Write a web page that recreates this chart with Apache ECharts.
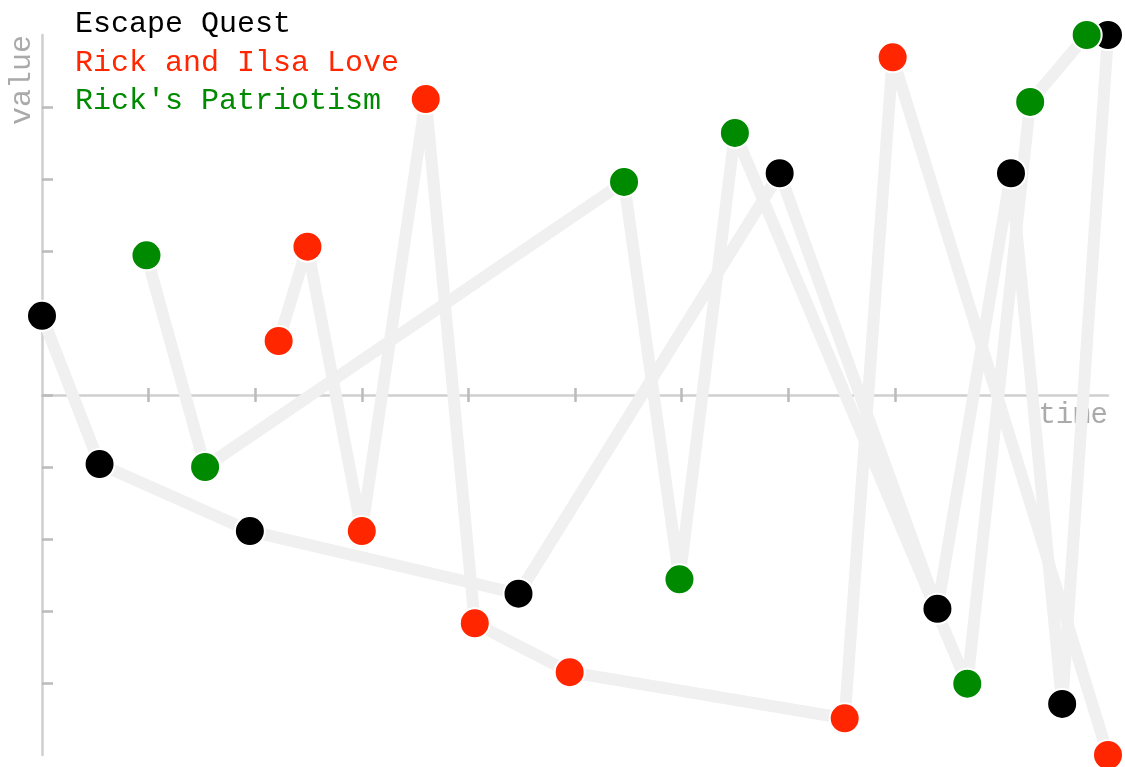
<!DOCTYPE html>
<html>
<head>
<meta charset="utf-8">
<title>Casablanca storylines</title>
<script src="https://cdn.jsdelivr.net/npm/echarts@6/dist/echarts.min.js"></script>
<style>
  html, body { margin: 0; padding: 0; background: #fff; }
  #chart { width: 1125px; height: 767px; }
</style>
</head>
<body>
<div id="chart"></div>
<script>
// series names
var seriesNames = ['Escape Quest', 'Rick and Ilsa Love', "Rick's Patriotism"];
var seriesColors = ['#000000', '#ff2600', '#008a00'];

// Escape Quest
var escapeX = [0, 0.54, 1.95, 4.47, 6.92, 8.40, 9.09, 9.57, 10];
var escapeY = [1.10, -0.96, -1.89, -2.76, 3.08, -2.97, 3.08, -4.29, 5];

// Rick and Ilsa Love
var loveX = [2.22, 2.49, 3.00, 3.60, 4.06, 4.95, 7.53, 7.98, 10];
var loveY = [0.75, 2.06, -1.89, 4.11, -3.17, -3.85, -4.49, 4.69, -5];

// Rick's Patriotism
var patriotX = [0.98, 1.53, 5.46, 5.98, 6.50, 8.68, 9.27, 9.80];
var patriotY = [1.94, -1.00, 2.96, -2.56, 3.64, -4.01, 4.07, 5.00];

// ticks
var xTicks = [1, 2, 3, 4, 5, 6, 7, 8, 9];
var yTicks = [-4, -3, -2, -1, 0, 1, 2, 3, 4];

function zip(xs, ys) {
    var out = [];
    for (var i = 0; i < xs.length; i++) out.push([xs[i], ys[i]]);
    return out;
}

var allData = [zip(escapeX, escapeY), zip(loveX, loveY), zip(patriotX, patriotY)];
var mono = "'Courier New', 'Liberation Mono', monospace";

var series = [];
// gray connecting lines first
for (var i = 0; i < 3; i++) {
    series.push({
        name: seriesNames[i],
        type: 'line',
        data: allData[i],
        showSymbol: false,
        clip: false,
        z: 2,
        silent: true,
        itemStyle: { color: seriesColors[i] },
        lineStyle: { color: '#f0f0f0', width: 12, cap: 'round', join: 'round' }
    });
}
// dots on top
for (var j = 0; j < 3; j++) {
    series.push({
        name: seriesNames[j],
        type: 'scatter',
        data: allData[j],
        symbol: 'circle',
        symbolSize: 30,
        clip: false,
        z: 3,
        itemStyle: { color: seriesColors[j], borderColor: '#fff', borderWidth: 2, opacity: 1 }
    });
}

var myChart = echarts.init(document.getElementById('chart'));
var option = {
    animation: false,
    backgroundColor: '#fff',
    legend: {
        orient: 'vertical',
        left: 65,
        top: 0,
        icon: 'none',
        itemWidth: 0,
        itemHeight: 0,
        itemGap: 0,
        selectedMode: false,
        data: seriesNames.map(function (n, k) {
            return { name: n, textStyle: { color: seriesColors[k] } };
        }),
        textStyle: { fontFamily: mono, fontSize: 30, lineHeight: 38.5 }
    },
    grid: {
        left: 42, right: 17, top: 35, bottom: 12,
        containLabel: false,
        outerBoundsMode: 'none'
    },
    xAxis: [{
        type: 'value',
        min: 0, max: 10, interval: 1,
        name: 'time',
        nameLocation: 'end',
        nameGap: 0,
        nameTextStyle: {
            color: '#aaa', fontFamily: mono, fontSize: 29,
            align: 'right', verticalAlign: 'top', padding: [6, 0, 0, 0]
        },
        axisLine: { onZero: true, lineStyle: { color: '#cfcfcf', width: 2.5 } },
        axisTick: { show: true, length: 7, customValues: xTicks, lineStyle: { color: '#bbb', width: 2.5 } },
        axisLabel: { show: false },
        splitLine: { show: false }
    }, {
        // upper half of the x ticks
        type: 'value',
        position: 'bottom',
        min: 0, max: 10, interval: 1,
        axisLine: { show: true, onZero: true, onZeroAxisIndex: 1, lineStyle: { opacity: 0 } },
        axisTick: { show: true, inside: true, length: 7, customValues: xTicks, lineStyle: { color: '#bbb', width: 2.5 } },
        axisLabel: { show: false },
        splitLine: { show: false }
    }],
    yAxis: [{
        type: 'value',
        min: -5, max: 5, interval: 1,
        name: 'value',
        nameLocation: 'end',
        nameGap: 0,
        nameRotate: 90,
        nameTextStyle: {
            color: '#aaa', fontFamily: mono, fontSize: 30,
            align: 'right', verticalAlign: 'bottom', padding: [0, 0, 5, 0]
        },
        axisLine: { lineStyle: { color: '#cfcfcf', width: 2.5 } },
        axisTick: { show: true, inside: true, length: 11, customValues: yTicks, lineStyle: { color: '#bbb', width: 2.5 } },
        axisLabel: { show: false },
        splitLine: { show: false }
    }, {
        type: 'value',
        show: false,
        min: -5, max: 5, interval: 1,
        axisLine: { onZero: false }
    }],
    series: series
};
myChart.setOption(option);
</script>
</body>
</html>
